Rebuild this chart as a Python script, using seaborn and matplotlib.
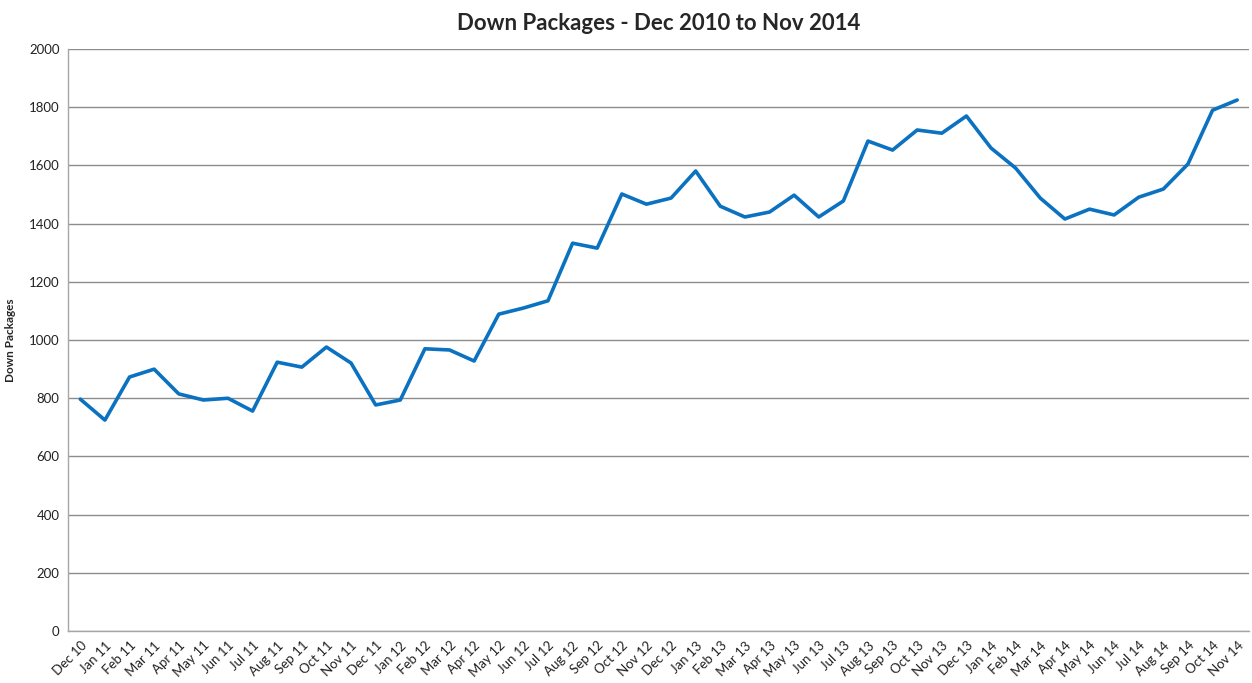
import pandas as pd
import matplotlib
matplotlib.use('Agg')
import matplotlib.pyplot as plt
import seaborn as sns

# 数据：每月 Down Packages 数量
months = ['Dec 10', 'Jan 11', 'Feb 11', 'Mar 11', 'Apr 11', 'May 11', 'Jun 11', 'Jul 11',
          'Aug 11', 'Sep 11', 'Oct 11', 'Nov 11', 'Dec 11', 'Jan 12', 'Feb 12', 'Mar 12',
          'Apr 12', 'May 12', 'Jun 12', 'Jul 12', 'Aug 12', 'Sep 12', 'Oct 12', 'Nov 12',
          'Dec 12', 'Jan 13', 'Feb 13', 'Mar 13', 'Apr 13', 'May 13', 'Jun 13', 'Jul 13',
          'Aug 13', 'Sep 13', 'Oct 13', 'Nov 13', 'Dec 13', 'Jan 14', 'Feb 14', 'Mar 14',
          'Apr 14', 'May 14', 'Jun 14', 'Jul 14', 'Aug 14', 'Sep 14', 'Oct 14', 'Nov 14']
packages = [797, 725, 873, 900, 815, 794, 800, 756,
            924, 907, 976, 921, 777, 794, 970, 966,
            928, 1089, 1110, 1135, 1333, 1316, 1502, 1467,
            1488, 1581, 1460, 1423, 1440, 1498, 1423, 1478,
            1684, 1653, 1722, 1711, 1770, 1660, 1591, 1488,
            1416, 1450, 1430, 1491, 1519, 1605, 1790, 1825]
y_ticks = [0, 200, 400, 600, 800, 1000, 1200, 1400, 1600, 1800, 2000]

df = pd.DataFrame({'month': months, 'packages': packages})

sns.set_theme(style="white")
plt.rcParams['font.family'] = ['Lato', 'DejaVu Sans']

fig = plt.figure(figsize=(12.52, 6.83), dpi=100)
ax = fig.add_axes([0.0543, 0.0761, 0.9437, 0.852])

sns.lineplot(data=df, x='month', y='packages', sort=False, color='#0a72c0',
             linewidth=2.6, ax=ax)

ax.set_xlim(-0.5, len(months) - 0.5)
ax.set_ylim(0, 2000)
ax.set_yticks(y_ticks)
ax.set_yticklabels([str(v) for v in y_ticks], fontsize=9.5, color='#222222')
ax.set_xticks(range(len(months)))
ax.set_xticklabels(months, rotation=45, ha='right', rotation_mode='anchor',
                   fontsize=9.5, color='#222222')
ax.tick_params(axis='both', length=0, pad=6)
ax.yaxis.grid(True, color='#8c8c8c', linewidth=1)
ax.set_axisbelow(True)

for side in ['top', 'right']:
    ax.spines[side].set_visible(False)
for side in ['left', 'bottom']:
    ax.spines[side].set_color('#a6a6a6')
    ax.spines[side].set_linewidth(1)

ax.set_xlabel('')
ax.set_ylabel('Down Packages', fontsize=8.5, fontweight='bold')
ax.yaxis.set_label_coords(-0.044, 0.5)
ax.set_title('Down Packages - Dec 2010 to Nov 2014', fontsize=16, fontweight='bold', pad=14)

fig.savefig('out.png', dpi=100)
